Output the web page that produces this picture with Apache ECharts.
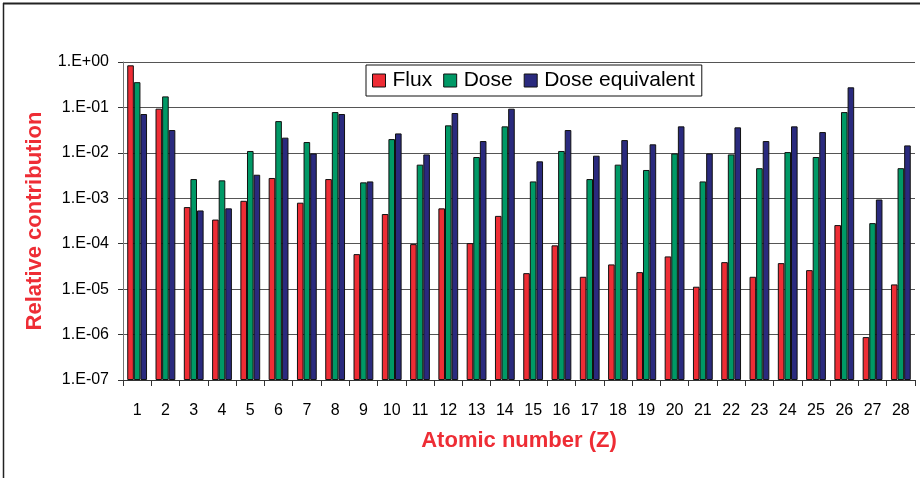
<!DOCTYPE html>
<html>
<head>
<meta charset="utf-8">
<script src="https://cdn.jsdelivr.net/npm/echarts@6/dist/echarts.min.js"></script>
<style>
  html, body { margin: 0; padding: 0; background: #fff; }
  #chart { width: 920px; height: 478px; }
</style>
</head>
<body>
<div id="chart"></div>
<script>
const categories = ['1','2','3','4','5','6','7','8','9','10','11','12','13','14','15','16','17','18','19','20','21','22','23','24','25','26','27','28'];
const flux = [0.845, 0.094, 6.4e-4, 3.4e-4, 8.8e-4, 2.8e-3, 8.0e-4, 2.65e-3, 5.9e-5, 4.5e-4, 9.8e-5, 6.0e-4, 1.03e-4, 4.1e-4, 2.25e-5, 9.2e-5, 1.87e-5, 3.5e-5, 2.37e-5, 5.25e-5, 1.13e-5, 3.93e-5, 1.87e-5, 3.74e-5, 2.62e-5, 2.57e-4, 8.8e-7, 1.27e-5];
const dose = [0.36, 0.175, 2.65e-3, 2.48e-3, 0.011, 0.050, 0.0173, 0.079, 2.24e-3, 0.0201, 5.5e-3, 0.0403, 8.1e-3, 0.0383, 2.35e-3, 0.011, 2.65e-3, 5.5e-3, 4.2e-3, 9.7e-3, 2.35e-3, 9.25e-3, 4.6e-3, 0.0104, 8.1e-3, 0.079, 2.84e-4, 4.6e-3];
const doseEquivalent = [0.0716, 0.0318, 5.4e-4, 6.0e-4, 3.3e-3, 0.0216, 9.7e-3, 0.0716, 2.35e-3, 0.0268, 9.25e-3, 0.0753, 0.0182, 0.0938, 6.5e-3, 0.0318, 8.65e-3, 0.0191, 0.0154, 0.0383, 9.7e-3, 0.0364, 0.0182, 0.0383, 0.0287, 0.277, 9.4e-4, 0.0146];
const seriesNames = ['Flux', 'Dose', 'Dose equivalent'];

const colors = ['#EE2D35', '#009966', '#2A2A7E'];
const FONT = 'Liberation Sans, Arial, sans-serif';

function fmtExp(v) {
  const e = Math.round(Math.log10(v));
  return '1.E' + (e >= 0 ? '+' : '-') + String(Math.abs(e)).padStart(2, '0');
}

const chart = echarts.init(document.getElementById('chart'), null, { renderer: 'canvas' });
const seriesData = [flux, dose, doseEquivalent];
chart.setOption({
  animation: false,
  backgroundColor: '#fff',
  textStyle: { fontFamily: FONT },
  graphic: [
    { type: 'line', shape: { x1: 3, y1: 3.5, x2: 920, y2: 3.5 }, style: { stroke: '#222', lineWidth: 2 } },
    { type: 'line', shape: { x1: 3.5, y1: 3, x2: 3.5, y2: 478 }, style: { stroke: '#222', lineWidth: 1.5 } }
  ],
  grid: { left: 123, right: 5, top: 62, bottom: 98, containLabel: false },
  legend: {
    left: 366, top: 65,
    padding: [5, 7, 5, 6],
    backgroundColor: '#fff',
    borderColor: '#111', borderWidth: 1,
    itemWidth: 13, itemHeight: 13, itemGap: 11,
    icon: 'rect',
    itemStyle: { borderColor: '#111', borderWidth: 1 },
    textStyle: { fontFamily: FONT, fontSize: 21, color: '#000', padding: [0, 0, 0, 2] },
    data: seriesNames
  },
  xAxis: {
    type: 'category',
    data: categories,
    name: 'Atomic number (Z)',
    nameLocation: 'middle',
    nameGap: 50,
    nameTextStyle: { fontFamily: FONT, fontSize: 22, fontWeight: 'bold', color: '#EE2D35' },
    axisLine: { lineStyle: { color: '#333', width: 1 } },
    axisTick: { show: true, length: 6, alignWithLabel: false, lineStyle: { color: '#333' } },
    axisLabel: { fontFamily: FONT, fontSize: 16, color: '#000', margin: 23, interval: 0 },
    splitLine: { show: false }
  },
  yAxis: {
    type: 'log',
    logBase: 10,
    min: 1e-7,
    max: 1,
    startValue: 1e-7,
    splitNumber: 7,
    name: 'Relative contribution',
    nameLocation: 'middle',
    nameGap: 77,
    nameTextStyle: { fontFamily: FONT, fontSize: 22, fontWeight: 'bold', color: '#EE2D35' },
    axisLine: { show: true, lineStyle: { color: '#777', width: 1 } },
    axisTick: { show: true, length: 5, lineStyle: { color: '#333' } },
    axisLabel: { fontFamily: FONT, fontSize: 16, color: '#000', margin: 14, formatter: fmtExp },
    splitLine: { show: true, lineStyle: { color: '#555', width: 1 } },
    minorSplitLine: { show: false }
  },
  series: seriesNames.map((name, i) => ({
    name: name,
    type: 'bar',
    data: seriesData[i],
    barWidth: 6.6,
    barGap: '0%',
    itemStyle: { color: colors[i], borderColor: '#111', borderWidth: 1 }
  }))
});
</script>
</body>
</html>
